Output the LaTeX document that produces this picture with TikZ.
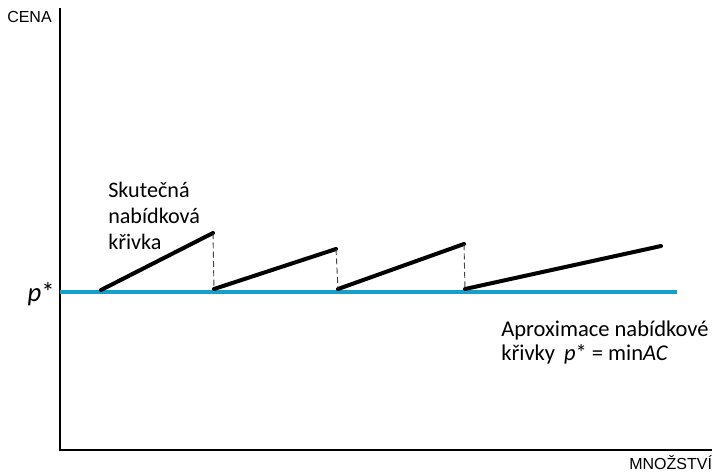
\documentclass[tikz,border=0pt]{standalone}
\usepackage{fontspec}
\setmainfont{Carlito}
\newfontfamily\arialfont{Liberation Sans}
\definecolor{pline}{RGB}{20,160,200}
\tikzset{
  axis/.style={line width=2.2pt},
  supply/.style={line width=3pt, line cap=round},
  jump/.style={dash pattern=on 4.5pt off 2.5pt, line width=0.7pt, gray!50!black},
  axlbl/.style={font=\arialfont\fontsize{12}{14}\selectfont, anchor=base west, inner sep=0pt},
  lbl/.style={align=left, inner sep=0pt, anchor=north west},
}
\begin{document}
\begin{tikzpicture}[x=0.75pt,y=-0.75pt]
\useasboundingbox (0,0) rectangle (712,472);
% axes
\coordinate (top) at (60,8);
\coordinate (origin) at (60,450);
\coordinate (right) at (712,450);
\draw[axis] (top) -- (origin) -- (right);
\node[axlbl] (cena) at (7,22) {CENA};
\node[axlbl] (mnozstvi) at (629,469) {MNOŽSTVÍ};
% p* = min AC
\coordinate (pa) at (60,292);
\coordinate (pb) at (677,292);
\draw[pline, line width=3pt] (pa) -- (pb);
\node[anchor=base east, inner sep=0pt, font=\fontsize{20}{20}\selectfont] (pstar) at (55,301) {\textit{p}*};
% sawtooth
\coordinate (a0) at (101,290); \coordinate (a1) at (213,233);
\coordinate (b0) at (214,289); \coordinate (b1) at (336,249);
\coordinate (c0) at (338,289); \coordinate (c1) at (464,244);
\coordinate (d0) at (465,289); \coordinate (d1) at (661,246);
\draw[supply] (a0) -- (a1);
\draw[supply] (b0) -- (b1);
\draw[supply] (c0) -- (c1);
\draw[supply] (d0) -- (d1);
\draw[jump] (a1) -- (b0);
\draw[jump] (b1) -- (c0);
\draw[jump] (c1) -- (d0);
% labels
\node[lbl, font=\fontsize{16.6}{19.5}\selectfont] (real) at (108,182) {Skutečná\\nabídková\\křivka};
\node[lbl, font=\fontsize{16.9}{17.5}\selectfont] (approx) at (501,321) {Aproximace nabídkové\\křivky \,\textit{p}* = min\textit{AC}};
\end{tikzpicture}
\end{document}
